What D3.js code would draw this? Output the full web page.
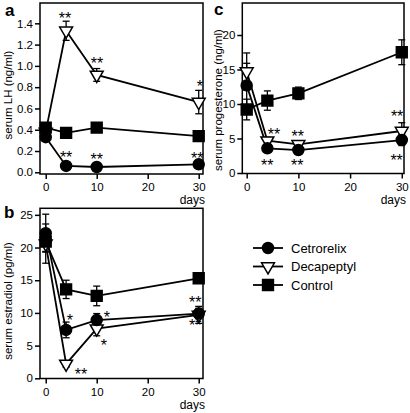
<!DOCTYPE html>
<html><head><meta charset="utf-8">
<script src="https://cdn.jsdelivr.net/npm/d3@7"></script>
<style>body{margin:0;background:#fff} text{font-family:"Liberation Sans",Arial,sans-serif;fill:#000}</style>
</head><body>
<svg id="chart" width="410" height="413"></svg>
<script>
// ---------- data ----------
const days = [0, 4, 10, 30];
const seriesNames = ["Cetrorelix", "Decapeptyl", "Control"];
const xTicks = [0, 10, 20, 30];

// serum LH (ng/ml)
const lhCetrorelix = [0.33, 0.06, 0.05, 0.075];
const lhCetrorelixErr = [0.02, 0.01, 0.01, 0.01];
const lhDecapeptyl = [0.38, 1.33, 0.915, 0.66];
const lhDecapeptylErr = [0.03, 0.09, 0.06, 0.11];
const lhControl = [0.42, 0.37, 0.42, 0.34];
const lhControlErr = [0.03, 0.02, 0.02, 0.02];
const lhTicks = [0, 0.2, 0.4, 0.6, 0.8, 1.0, 1.2, 1.4];
const lhStars = [["**", 3.8, 1.48], ["**", 10.05, 1.055], ["*", 30.25, 0.84],
                 ["**", 4, 0.17], ["**", 10, 0.155], ["**", 29.7, 0.163]];

// serum estradiol (pg/ml)
const e2Cetrorelix = [22.2, 7.4, 8.9, 9.9];
const e2CetrorelixErr = [2.9, 1.2, 1.0, 0.8];
const e2Decapeptyl = [20.6, 2.2, 7.6, 9.7];
const e2DecapeptylErr = [3.0, 0.5, 1.1, 1.3];
const e2Control = [20.9, 13.6, 12.6, 15.3];
const e2ControlErr = [1.5, 1.4, 1.5, 0.6];
const e2Ticks = [0, 5, 10, 15, 20, 25];
const e2Stars = [["*", 4.76, 9.4], ["*", 12.0, 9.8], ["*", 11.4, 5.6],
                 ["**", 6.9, 1.16], ["**", 29.3, 12.1], ["**", 29.3, 8.65]];

// serum progesterone (ng/ml)
const pCetrorelix = [12.7, 3.58, 3.33, 4.78];
const pCetrorelixErr = [3.2, 0.4, 0.4, 0.8];
const pDecapeptyl = [14.7, 4.68, 4.16, 6.09];
const pDecapeptylErr = [2.7, 0.5, 0.5, 1.2];
const pControl = [9.2, 10.5, 11.55, 17.5];
const pControlErr = [1.5, 1.4, 0.9, 1.8];
const pTicks = [0, 5, 10, 15, 20];
const pStars = [["**", 5.28, 6.13], ["**", 9.86, 5.75], ["**", 3.98, 1.64],
                ["**", 9.79, 1.64], ["**", 29.1, 8.74], ["**", 29.0, 2.28]];

// ---------- drawing ----------
const svg = d3.select("#chart");
const shapes = {
  Cetrorelix: {type: d3.symbolCircle, size: 95, fill: "#000", rot: 0},
  Decapeptyl: {type: d3.symbolTriangle, size: 72, fill: "#fff", rot: 180},
  Control: {type: d3.symbolSquare, size: 118, fill: "#000", rot: 0}
};
const drawOrder = ["Decapeptyl", "Cetrorelix", "Control"];

function markers(parent, name, pts) {
  const s = shapes[name];
  parent.selectAll(null).data(pts).enter().append("path")
    .attr("d", d3.symbol().type(s.type).size(s.size)())
    .attr("fill", s.fill).attr("stroke", "#000").attr("stroke-width", 1.5)
    .attr("transform", d => `translate(${d[0]},${d[1]}) rotate(${s.rot})`);
}

function panel(cfg) {
  const g = svg.append("g");
  const x = d3.scaleLinear().domain(cfg.xDom).range([cfg.left, cfg.right]);
  const y = d3.scaleLinear().domain(cfg.yDom).range([cfg.bottom, cfg.top]);

  g.append("rect").attr("x", cfg.left).attr("y", cfg.top)
    .attr("width", cfg.right - cfg.left).attr("height", cfg.bottom - cfg.top)
    .attr("fill", "none").attr("stroke", "#000").attr("stroke-width", 1.5);

  const ya = g.append("g").attr("transform", `translate(${cfg.left},0)`)
    .call(d3.axisLeft(y).tickValues(cfg.yTicks).tickFormat(cfg.fmt).tickSize(5).tickPadding(2));
  const xa = g.append("g").attr("transform", `translate(0,${cfg.bottom})`)
    .call(d3.axisBottom(x).tickValues(xTicks).tickFormat(d3.format("d")).tickSize(5).tickPadding(4));
  [ya, xa].forEach(a => {
    a.select(".domain").remove();
    a.selectAll(".tick line").attr("stroke", "#000").attr("stroke-width", 1.5);
    a.selectAll(".tick text").attr("font-size", 11.5).attr("font-family", '"Liberation Sans",Arial,sans-serif').attr("fill", "#000");
  });

  g.append("text").attr("x", cfg.right + 2).attr("y", cfg.bottom + 30)
    .attr("text-anchor", "end").attr("font-size", 12).text("days");

  g.append("text").attr("transform", `translate(${cfg.labelX},${cfg.labelY}) rotate(-90)`)
    .attr("text-anchor", "middle").attr("font-size", 11.5).text(cfg.label);

  g.append("text").attr("x", cfg.letterX).attr("y", cfg.letterY)
    .attr("font-size", 17).attr("font-weight", "bold").text(cfg.letter);

  const line = d3.line().x(d => x(d[0])).y(d => y(d[1]));
  drawOrder.forEach(name => {
    const pts = days.map((d, i) => [d, cfg.vals[name][i]]);
    g.append("path").attr("d", line(pts)).attr("fill", "none")
      .attr("stroke", "#000").attr("stroke-width", 1.8);
  });
  drawOrder.forEach(name => {
    const v = cfg.vals[name], e = cfg.errs[name];
    days.forEach((d, i) => {
      const px = x(d), y1 = y(v[i] - e[i]), y2 = y(v[i] + e[i]);
      g.append("line").attr("x1", px).attr("x2", px).attr("y1", y1).attr("y2", y2)
        .attr("stroke", "#000").attr("stroke-width", 1.3);
      [y1, y2].forEach(yy => g.append("line").attr("x1", px - 3.5).attr("x2", px + 3.5)
        .attr("y1", yy).attr("y2", yy).attr("stroke", "#000").attr("stroke-width", 1.3));
    });
  });
  drawOrder.forEach(name => {
    const pts = days.map((d, i) => [x(d), y(cfg.vals[name][i])]);
    markers(g.append("g"), name, pts);
  });
  cfg.stars.forEach(s => {
    g.append("text").attr("x", x(s[1])).attr("y", y(s[2]) + 9)
      .attr("text-anchor", "middle").attr("font-size", 16).text(s[0]);
  });
}

panel({
  left: 40, right: 203, top: 3, bottom: 174,
  xDom: [-1.12, 30.84], yDom: [-0.016, 1.591], yTicks: lhTicks, fmt: d3.format(".1f"),
  label: "serum LH (ng/ml)", labelX: 12, labelY: 95, letter: "a", letterX: 5, letterY: 16,
  vals: {Cetrorelix: lhCetrorelix, Decapeptyl: lhDecapeptyl, Control: lhControl},
  errs: {Cetrorelix: lhCetrorelixErr, Decapeptyl: lhDecapeptylErr, Control: lhControlErr},
  stars: lhStars
});
panel({
  left: 40, right: 203, top: 208.3, bottom: 378.5,
  xDom: [-1.12, 30.84], yDom: [-0.03, 26.0], yTicks: e2Ticks, fmt: d3.format("d"),
  label: "serum estradiol (pg/ml)", labelX: 12, labelY: 301, letter: "b", letterX: 4, letterY: 218,
  vals: {Cetrorelix: e2Cetrorelix, Decapeptyl: e2Decapeptyl, Control: e2Control},
  errs: {Cetrorelix: e2CetrorelixErr, Decapeptyl: e2DecapeptylErr, Control: e2ControlErr},
  stars: e2Stars
});
panel({
  left: 242.3, right: 404, top: 3, bottom: 173.5,
  xDom: [-0.85, 30.43], yDom: [-0.072, 24.64], yTicks: pTicks, fmt: d3.format("d"),
  label: "serum progesterone (ng/ml)", labelX: 222, labelY: 100, letter: "c", letterX: 214, letterY: 15,
  vals: {Cetrorelix: pCetrorelix, Decapeptyl: pDecapeptyl, Control: pControl},
  errs: {Cetrorelix: pCetrorelixErr, Decapeptyl: pDecapeptylErr, Control: pControlErr},
  stars: pStars
});

// legend
const legendY = d3.scalePoint().domain(seriesNames).range([248, 285]);
const lg = svg.append("g");
seriesNames.forEach(name => {
  const yy = legendY(name);
  lg.append("line").attr("x1", 253).attr("x2", 283).attr("y1", yy).attr("y2", yy)
    .attr("stroke", "#000").attr("stroke-width", 1.8);
  markers(lg, name, [[268, yy]]);
  lg.append("text").attr("x", 291).attr("y", yy + 4.5).attr("font-size", 13).text(name);
});
</script>
</body></html>
